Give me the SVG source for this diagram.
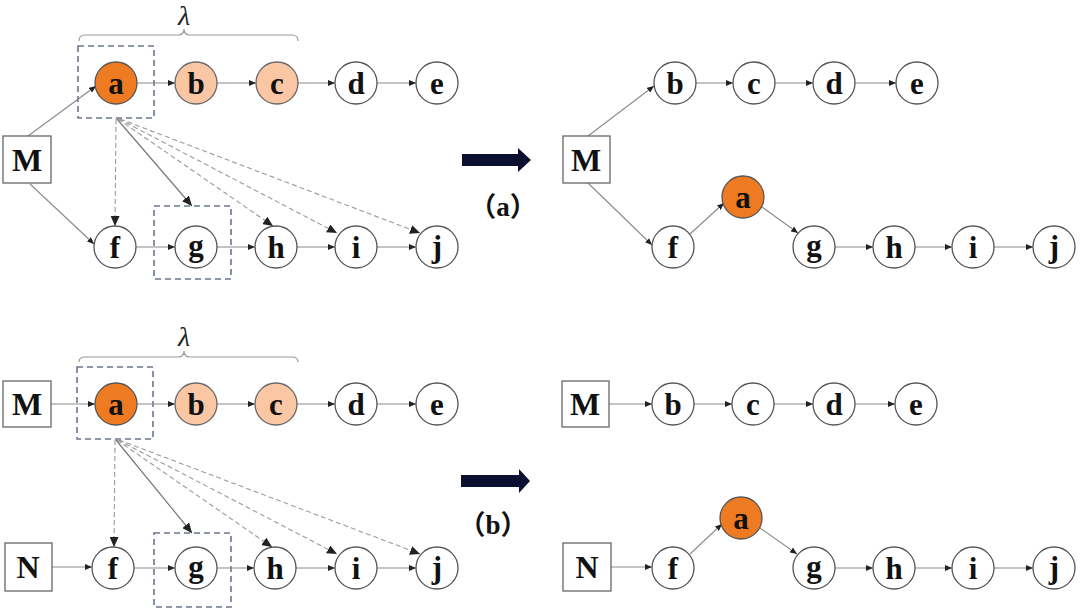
<svg xmlns="http://www.w3.org/2000/svg" width="1080" height="610" viewBox="0 0 1080 610">
<style>
.n circle{fill:#fff;stroke:#555;stroke-width:1.3}
.n rect{fill:#fff;stroke:#666;stroke-width:1.3}
.n text{font-family:"Liberation Serif",serif;font-weight:bold;font-size:31px;text-anchor:middle;fill:#111}
.n text.box{font-size:32px}
.dark circle{fill:#EE7A22;stroke:#555}
.light circle{fill:#FAC6A3;stroke:#666}
.e{stroke:#8a8a8a;stroke-width:1.1;fill:none;marker-end:url(#s)}
.d{stroke:#9a9a9a;stroke-width:1.1;fill:none;stroke-dasharray:5,3;marker-end:url(#l)}
.sl{stroke:#777;stroke-width:1.2;fill:none;marker-end:url(#l)}
.db{fill:none;stroke:#6b7690;stroke-width:1.6;stroke-dasharray:6,4}
.br{fill:none;stroke:#999;stroke-width:1.2}
.lam{font-family:"Liberation Serif",serif;font-style:italic;font-size:28px;text-anchor:middle;fill:#222}
.lab{font-family:"Liberation Serif","Noto Sans CJK SC",serif;font-weight:bold;font-size:27px;text-anchor:middle;fill:#111}
.big{fill:#0b1030}
</style>
<defs>
<marker id="s" markerUnits="userSpaceOnUse" markerWidth="8" markerHeight="6" refX="7" refY="3" orient="auto"><path d="M0,0 L7,3 L0,6 z" fill="#222"/></marker>
<marker id="l" markerUnits="userSpaceOnUse" markerWidth="11" markerHeight="9" refX="10" refY="4.5" orient="auto"><path d="M0,0 L10,4.5 L0,9 z" fill="#222"/></marker>
</defs>

<!-- Decorations -->
<g id="decor">
<rect class="db" x="78" y="46" width="76" height="72"/>
<rect class="db" x="154" y="206" width="77" height="73"/>
<path class="br" d="M79,41 Q79,35 85,35 L178,35 Q184,35 184,29 Q184,35 190,35 L292,35 Q298,35 298,41"/>
<text class="lam" x="184" y="25">λ</text>
<rect class="db" x="77" y="367" width="76" height="72"/>
<rect class="db" x="154" y="533" width="77" height="74"/>
<path class="br" d="M79,362 Q79,357 85,357 L178,357 Q184,357 184,351 Q184,357 190,357 L292,357 Q298,357 298,362"/>
<text class="lam" x="184" y="346">λ</text>
<polygon class="big" points="462,154 518,154 518,148 531,160 518,172 518,166 462,166"/>
<text class="lab" x="503" y="216">（a）</text>
<polygon class="big" points="461,475 519,475 519,469 530,481 519,493 519,487 461,487"/>
<text class="lab" x="493" y="534">（b）</text>
</g>

<!-- Connectors -->
<g id="connectors">
<!-- (a) left -->
<line class="e" x1="28" y1="136" x2="96" y2="86"/>
<line class="e" x1="30" y1="184" x2="94" y2="244"/>
<line class="e" x1="137" y1="83" x2="175" y2="83"/>
<line class="e" x1="217" y1="83" x2="256" y2="83"/>
<line class="e" x1="298" y1="83" x2="335" y2="83"/>
<line class="e" x1="377" y1="83" x2="416" y2="83"/>
<line class="e" x1="136" y1="247" x2="175" y2="247"/>
<line class="e" x1="217" y1="247" x2="255" y2="247"/>
<line class="e" x1="297" y1="247" x2="335" y2="247"/>
<line class="e" x1="377" y1="247" x2="416" y2="247"/>
<line class="d" x1="116" y1="119" x2="115" y2="226"/>
<line class="sl" x1="117" y1="119" x2="192" y2="206"/>
<line class="d" x1="118" y1="119" x2="273" y2="226"/>
<line class="d" x1="119" y1="119" x2="337" y2="233"/>
<line class="d" x1="120" y1="119" x2="420" y2="233"/>
<!-- (a) right -->
<line class="e" x1="588" y1="136" x2="654" y2="86"/>
<line class="e" x1="588" y1="183" x2="652" y2="245"/>
<line class="e" x1="696" y1="83" x2="733" y2="83"/>
<line class="e" x1="775" y1="83" x2="813" y2="83"/>
<line class="e" x1="855" y1="83" x2="896" y2="83"/>
<line class="e" x1="690" y1="234" x2="724" y2="203"/>
<line class="e" x1="762" y1="207" x2="798" y2="233"/>
<line class="e" x1="835" y1="247" x2="873" y2="247"/>
<line class="e" x1="915" y1="247" x2="952" y2="247"/>
<line class="e" x1="994" y1="247" x2="1033" y2="247"/>
<!-- (b) left -->
<line class="e" x1="51" y1="404" x2="95" y2="404"/>
<line class="e" x1="52" y1="567" x2="92" y2="567"/>
<line class="e" x1="137" y1="404" x2="175" y2="404"/>
<line class="e" x1="217" y1="404" x2="255" y2="404"/>
<line class="e" x1="297" y1="404" x2="335" y2="404"/>
<line class="e" x1="377" y1="404" x2="416" y2="404"/>
<line class="e" x1="134" y1="568" x2="175" y2="568"/>
<line class="e" x1="217" y1="568" x2="254" y2="568"/>
<line class="e" x1="296" y1="568" x2="335" y2="568"/>
<line class="e" x1="377" y1="568" x2="416" y2="568"/>
<line class="d" x1="115" y1="440" x2="114" y2="547"/>
<line class="sl" x1="116" y1="440" x2="192" y2="533"/>
<line class="d" x1="117" y1="440" x2="272" y2="547"/>
<line class="d" x1="118" y1="440" x2="337" y2="554"/>
<line class="d" x1="119" y1="440" x2="420" y2="554"/>
<!-- (b) right -->
<line class="e" x1="609" y1="404" x2="652" y2="404"/>
<line class="e" x1="611" y1="567" x2="652" y2="567"/>
<line class="e" x1="694" y1="404" x2="732" y2="404"/>
<line class="e" x1="774" y1="404" x2="813" y2="404"/>
<line class="e" x1="855" y1="404" x2="895" y2="404"/>
<line class="e" x1="690" y1="554" x2="722" y2="524"/>
<line class="e" x1="760" y1="528" x2="797" y2="554"/>
<line class="e" x1="835" y1="568" x2="873" y2="568"/>
<line class="e" x1="915" y1="568" x2="952" y2="568"/>
<line class="e" x1="994" y1="568" x2="1033" y2="568"/>
</g>

<!-- (a) left nodes -->
<g id="a1-M" class="n"><rect x="3" y="136" width="48" height="47"/><text class="box" x="27" y="171">M</text></g>
<g id="a1-a" class="n dark"><circle cx="116" cy="83" r="21"/><text x="116" y="94">a</text></g>
<g id="a1-b" class="n light"><circle cx="196" cy="83" r="21"/><text x="196" y="94">b</text></g>
<g id="a1-c" class="n light"><circle cx="277" cy="83" r="21"/><text x="277" y="94">c</text></g>
<g id="a1-d" class="n"><circle cx="356" cy="83" r="21"/><text x="356" y="94">d</text></g>
<g id="a1-e" class="n"><circle cx="437" cy="83" r="21"/><text x="437" y="94">e</text></g>
<g id="a1-f" class="n"><circle cx="115" cy="247" r="21"/><text x="115" y="258">f</text></g>
<g id="a1-g" class="n"><circle cx="196" cy="247" r="21"/><text x="196" y="256">g</text></g>
<g id="a1-h" class="n"><circle cx="276" cy="247" r="21"/><text x="276" y="258">h</text></g>
<g id="a1-i" class="n"><circle cx="356" cy="247" r="21"/><text x="356" y="258">i</text></g>
<g id="a1-j" class="n"><circle cx="437" cy="247" r="21"/><text x="437" y="257">j</text></g>

<!-- (a) right nodes -->
<g id="a2-M" class="n"><rect x="563" y="136" width="47" height="47"/><text class="box" x="586" y="171">M</text></g>
<g id="a2-b" class="n"><circle cx="675" cy="83" r="21"/><text x="675" y="94">b</text></g>
<g id="a2-c" class="n"><circle cx="754" cy="83" r="21"/><text x="754" y="94">c</text></g>
<g id="a2-d" class="n"><circle cx="834" cy="83" r="21"/><text x="834" y="94">d</text></g>
<g id="a2-e" class="n"><circle cx="917" cy="83" r="21"/><text x="917" y="94">e</text></g>
<g id="a2-f" class="n"><circle cx="673" cy="247" r="21"/><text x="673" y="258">f</text></g>
<g id="a2-a" class="n dark"><circle cx="743" cy="197" r="21"/><text x="743" y="208">a</text></g>
<g id="a2-g" class="n"><circle cx="814" cy="247" r="21"/><text x="814" y="256">g</text></g>
<g id="a2-h" class="n"><circle cx="894" cy="247" r="21"/><text x="894" y="258">h</text></g>
<g id="a2-i" class="n"><circle cx="973" cy="247" r="21"/><text x="973" y="258">i</text></g>
<g id="a2-j" class="n"><circle cx="1054" cy="247" r="21"/><text x="1054" y="257">j</text></g>

<!-- (b) left nodes -->
<g id="b1-M" class="n"><rect x="3" y="381" width="48" height="46"/><text class="box" x="27" y="415">M</text></g>
<g id="b1-N" class="n"><rect x="5" y="543" width="47" height="48"/><text class="box" x="28" y="578">N</text></g>
<g id="b1-a" class="n dark"><circle cx="116" cy="404" r="21"/><text x="116" y="415">a</text></g>
<g id="b1-b" class="n light"><circle cx="196" cy="404" r="21"/><text x="196" y="415">b</text></g>
<g id="b1-c" class="n light"><circle cx="276" cy="404" r="21"/><text x="276" y="415">c</text></g>
<g id="b1-d" class="n"><circle cx="356" cy="404" r="21"/><text x="356" y="415">d</text></g>
<g id="b1-e" class="n"><circle cx="437" cy="404" r="21"/><text x="437" y="415">e</text></g>
<g id="b1-f" class="n"><circle cx="113" cy="568" r="21"/><text x="113" y="579">f</text></g>
<g id="b1-g" class="n"><circle cx="196" cy="568" r="21"/><text x="196" y="577">g</text></g>
<g id="b1-h" class="n"><circle cx="275" cy="568" r="21"/><text x="275" y="579">h</text></g>
<g id="b1-i" class="n"><circle cx="356" cy="568" r="21"/><text x="356" y="579">i</text></g>
<g id="b1-j" class="n"><circle cx="437" cy="568" r="21"/><text x="437" y="578">j</text></g>

<!-- (b) right nodes -->
<g id="b2-M" class="n"><rect x="562" y="381" width="47" height="46"/><text class="box" x="585" y="415">M</text></g>
<g id="b2-N" class="n"><rect x="563" y="543" width="48" height="48"/><text class="box" x="587" y="578">N</text></g>
<g id="b2-b" class="n"><circle cx="673" cy="404" r="21"/><text x="673" y="415">b</text></g>
<g id="b2-c" class="n"><circle cx="753" cy="404" r="21"/><text x="753" y="415">c</text></g>
<g id="b2-d" class="n"><circle cx="834" cy="404" r="21"/><text x="834" y="415">d</text></g>
<g id="b2-e" class="n"><circle cx="916" cy="404" r="21"/><text x="916" y="415">e</text></g>
<g id="b2-f" class="n"><circle cx="673" cy="568" r="21"/><text x="673" y="579">f</text></g>
<g id="b2-a" class="n dark"><circle cx="741" cy="518" r="21"/><text x="741" y="529">a</text></g>
<g id="b2-g" class="n"><circle cx="814" cy="568" r="21"/><text x="814" y="577">g</text></g>
<g id="b2-h" class="n"><circle cx="894" cy="568" r="21"/><text x="894" y="579">h</text></g>
<g id="b2-i" class="n"><circle cx="973" cy="568" r="21"/><text x="973" y="579">i</text></g>
<g id="b2-j" class="n"><circle cx="1054" cy="568" r="21"/><text x="1054" y="578">j</text></g>
</svg>
